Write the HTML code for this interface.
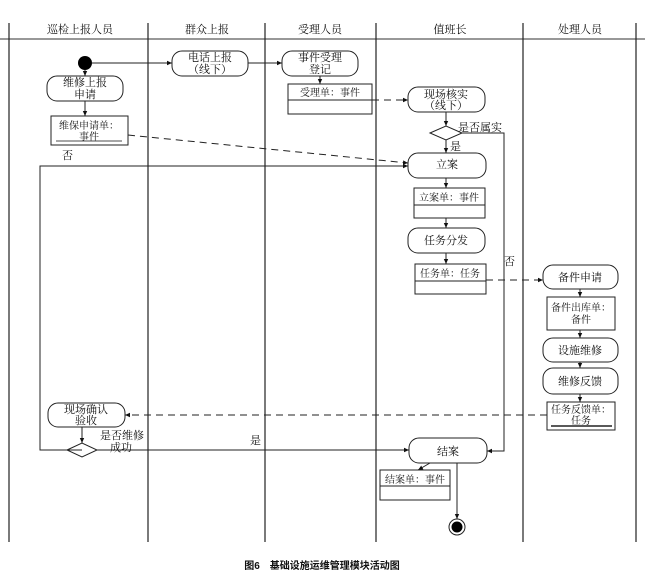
<!DOCTYPE html>
<html><head><meta charset="utf-8"><style>
html,body{margin:0;padding:0;background:#fff;}
svg{display:block;}
text{font-family:"Liberation Serif","Noto Serif CJK SC",serif;font-size:11px;fill:#111;}
.s{font-size:10px;}
</style></head><body>
<svg width="645" height="580" viewBox="0 0 645 580" xmlns="http://www.w3.org/2000/svg">
<defs>
<marker id="a" markerWidth="6" markerHeight="6" refX="5" refY="3" orient="auto" markerUnits="userSpaceOnUse"><path d="M0,0.8 L5,3 L0,5.2 z" fill="#111"/></marker>
</defs>
<g stroke="#222" fill="none">
<line x1="0" y1="39" x2="645" y2="39" stroke="#777" stroke-width="1.5"/>
<g stroke-width="1.2">
<line x1="9" y1="23" x2="9" y2="542"/>
<line x1="148" y1="23" x2="148" y2="542"/>
<line x1="265" y1="23" x2="265" y2="542"/>
<line x1="376" y1="23" x2="376" y2="542"/>
<line x1="523" y1="23" x2="523" y2="542"/>
<line x1="636" y1="23" x2="636" y2="542"/>
</g>
</g>
<g text-anchor="middle">
<text x="80" y="33">巡检上报人员</text>
<text x="207" y="33">群众上报</text>
<text x="320" y="33">受理人员</text>
<text x="450" y="33">值班长</text>
<text x="580" y="33">处理人员</text>
</g>
<g stroke="#222" stroke-width="1" fill="#fff">
<rect x="172" y="51" width="76" height="25" rx="10"/>
<rect x="282" y="51" width="76" height="25" rx="10"/>
<rect x="47" y="76" width="76" height="25" rx="10"/>
<rect x="408" y="87" width="77" height="25" rx="10"/>
<rect x="408" y="153" width="78" height="25" rx="10"/>
<rect x="408" y="228" width="77" height="25" rx="10"/>
<rect x="543" y="265" width="75" height="24" rx="10"/>
<rect x="543" y="338" width="75" height="24" rx="10"/>
<rect x="543" y="368" width="75" height="26" rx="10"/>
<rect x="48" y="403" width="77" height="24" rx="10"/>
<rect x="409" y="438" width="78" height="25" rx="10"/>
<rect x="51" y="116" width="77" height="29"/>
<line x1="56" y1="141" x2="122" y2="141" stroke="#888" stroke-width="1.5"/>
<rect x="288" y="84" width="84" height="30"/>
<line x1="288" y1="100" x2="372" y2="100"/>
<rect x="414" y="188" width="71" height="30"/>
<line x1="414" y1="205" x2="485" y2="205"/>
<rect x="415" y="264" width="71" height="30"/>
<line x1="415" y1="281" x2="486" y2="281"/>
<rect x="547" y="297" width="68" height="33"/>
<rect x="547" y="402" width="68" height="28"/>
<line x1="551" y1="426" x2="612" y2="426" stroke-width="1.5"/>
<rect x="380" y="470" width="70" height="30"/>
<line x1="380" y1="486" x2="450" y2="486"/>
<polygon points="430,133 446,126 462,133 446,140"/>
<polygon points="67,450 82,443 97,450 82,457"/>
</g>
<circle cx="85" cy="63" r="7" fill="#000"/>
<circle cx="457" cy="527" r="8" fill="#fff" stroke="#222"/>
<circle cx="457" cy="527" r="5.5" fill="#000"/>
<g stroke="#222" stroke-width="1" fill="none" marker-end="url(#a)">
<line x1="92" y1="63" x2="172" y2="63"/>
<line x1="248" y1="63" x2="282" y2="63"/>
<line x1="85" y1="70" x2="85" y2="76"/>
<line x1="85" y1="101" x2="85" y2="116"/>
<line x1="320" y1="76" x2="320" y2="84"/>
<line x1="446" y1="112" x2="446" y2="126"/>
<line x1="446" y1="140" x2="446" y2="153"/>
<line x1="446" y1="178" x2="446" y2="188"/>
<line x1="446" y1="218" x2="446" y2="228"/>
<line x1="446" y1="253" x2="446" y2="264"/>
<line x1="580" y1="289" x2="580" y2="297"/>
<line x1="580" y1="330" x2="580" y2="338"/>
<line x1="580" y1="362" x2="580" y2="368"/>
<line x1="580" y1="394" x2="580" y2="402"/>
<line x1="82" y1="427" x2="82" y2="443"/>
<line x1="97" y1="450" x2="409" y2="450"/>
<polyline points="462,133 504,133 504,451 487,451"/>
<polyline points="82,450 40,450 40,166 408,166"/>
<line x1="430" y1="463" x2="418" y2="470"/>
<line x1="457" y1="463" x2="457" y2="519"/>
<g stroke-dasharray="7,5">
<line x1="372" y1="100" x2="408" y2="100"/>
<line x1="128" y1="135" x2="408" y2="163"/>
<line x1="486" y1="280" x2="543" y2="280"/>
<line x1="547" y1="415" x2="125" y2="415"/>
</g>
</g>
<g text-anchor="middle">
<text x="210" y="61">电话上报</text><text x="210" y="73">（线下）</text>
<text x="320" y="61">事件受理</text><text x="320" y="73">登记</text>
<text x="85" y="86">维修上报</text><text x="85" y="98">申请</text>
<text class="s" x="89" y="129">维保申请单：</text><text class="s" x="89" y="140">事件</text>
<text class="s" x="330" y="96">受理单：事件</text>
<text x="446" y="98">现场核实</text><text x="446" y="109">（线下）</text>
<text x="447" y="168">立案</text>
<text class="s" x="449" y="201">立案单：事件</text>
<text x="446" y="244">任务分发</text>
<text class="s" x="450" y="277">任务单：任务</text>
<text x="580" y="281">备件申请</text>
<text class="s" x="581" y="311">备件出库单：</text><text class="s" x="581" y="323">备件</text>
<text x="580" y="354">设施维修</text>
<text x="580" y="385">维修反馈</text>
<text class="s" x="581" y="413">任务反馈单：</text><text class="s" x="581" y="424">任务</text>
<text x="86" y="413">现场确认</text><text x="86" y="424">验收</text>
<text x="448" y="455">结案</text>
<text class="s" x="415" y="483">结案单：事件</text>
</g>
<text x="458" y="131">是否属实</text>
<text x="450" y="150">是</text>
<text x="504" y="265">否</text>
<text x="62" y="159">否</text>
<text x="100" y="439">是否维修</text>
<text x="110" y="451">成功</text>
<text x="250" y="444">是</text>
<text x="322" y="569" text-anchor="middle" style="font-family:'Liberation Sans','Noto Sans CJK SC',sans-serif;font-size:10px;font-weight:bold">图6　基础设施运维管理模块活动图</text>
</svg>
</body></html>
